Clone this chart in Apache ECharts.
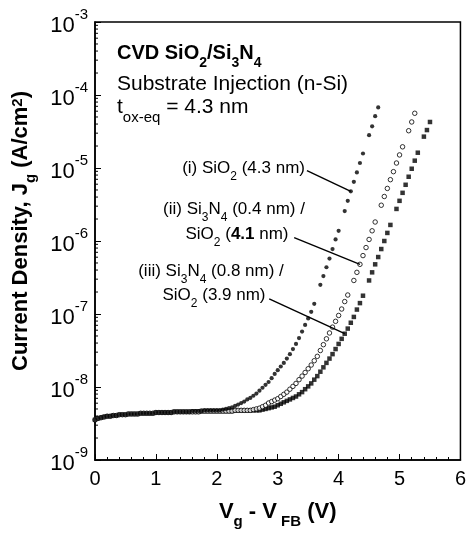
<!DOCTYPE html>
<html>
<head>
<meta charset="utf-8">
<script src="https://cdn.jsdelivr.net/npm/echarts@6/dist/echarts.min.js"></script>
<style>
  html, body { margin: 0; padding: 0; background: #fff; }
  #chart { width: 469px; height: 534px; }
</style>
</head>
<body>
<div id="chart"></div>
<script>
// Gate bias sweep, Vg - VFB (V)
const voltage = [
  0, 0.05, 0.1, 0.15, 0.2, 0.25, 0.3, 0.35, 0.4, 0.45,
  0.5, 0.55, 0.6, 0.65, 0.7, 0.75, 0.8, 0.85, 0.9, 0.95,
  1, 1.05, 1.1, 1.15, 1.2, 1.25, 1.3, 1.35, 1.4, 1.45,
  1.5, 1.55, 1.6, 1.65, 1.7, 1.75, 1.8, 1.85, 1.9, 1.95,
  2, 2.05, 2.1, 2.15, 2.2, 2.25, 2.3, 2.35, 2.4, 2.45,
  2.5, 2.55, 2.6, 2.65, 2.7, 2.75, 2.8, 2.85, 2.9, 2.95,
  3, 3.05, 3.1, 3.15, 3.2, 3.25, 3.3, 3.35, 3.4, 3.45,
  3.5, 3.55, 3.6, 3.65, 3.7, 3.75, 3.8, 3.85, 3.9, 3.95,
  4, 4.05, 4.1, 4.15, 4.2, 4.25, 4.3, 4.35, 4.4, 4.45,
  4.5, 4.55, 4.6, 4.65, 4.7, 4.75, 4.8, 4.85, 4.9, 4.95,
  5, 5.05, 5.1, 5.15, 5.2, 5.25, 5.3, 5.35, 5.4, 5.45,
  5.5
];

// (i) SiO2 (4.3 nm): gate current density Jg (A/cm^2); null = no reading
const jSiO2 = [
  3.55e-9, 3.72e-9, 3.80e-9, 3.89e-9, 3.98e-9, 3.98e-9, 4.07e-9, 4.07e-9, 4.17e-9, 4.17e-9,
  4.17e-9, 4.27e-9, 4.27e-9, 4.27e-9, 4.27e-9, 4.37e-9, 4.37e-9, 4.37e-9, 4.37e-9, 4.37e-9,
  4.47e-9, 4.47e-9, 4.47e-9, 4.47e-9, 4.47e-9, 4.47e-9, 4.57e-9, 4.57e-9, 4.57e-9, 4.57e-9,
  4.57e-9, 4.57e-9, 4.68e-9, 4.68e-9, 4.68e-9, 4.68e-9, 4.79e-9, 4.79e-9, 4.79e-9, 4.79e-9,
  4.79e-9, 4.79e-9, 4.90e-9, 5.01e-9, 5.13e-9, 5.25e-9, 5.50e-9, 5.75e-9, 6.03e-9, 6.31e-9,
  6.76e-9, 7.08e-9, 7.59e-9, 8.13e-9, 8.91e-9, 9.77e-9, 1.07e-8, 1.17e-8, 1.32e-8, 1.51e-8,
  1.70e-8, 1.91e-8, 2.14e-8, 2.45e-8, 2.82e-8, 3.31e-8, 3.89e-8, 4.68e-8, 5.75e-8, 7.08e-8,
  8.71e-8, 1.07e-7, 1.38e-7, null, 2.51e-7, 3.31e-7, 4.37e-7, 5.75e-7, 7.76e-7, 1.05e-6,
  1.38e-6, null, 2.57e-6, 3.55e-6, 4.79e-6, 6.46e-6, 8.71e-6, 1.17e-5, 1.58e-5, null,
  2.82e-5, 3.72e-5, 5.13e-5, 6.76e-5
];

// (ii) Si3N4 (0.4 nm) / SiO2 (4.1 nm)
const jN04 = [
  3.55e-9, 3.72e-9, 3.80e-9, 3.89e-9, 3.98e-9, 3.98e-9, 4.07e-9, 4.07e-9, 4.17e-9, 4.17e-9,
  4.17e-9, 4.27e-9, 4.27e-9, 4.27e-9, 4.27e-9, 4.37e-9, 4.37e-9, 4.37e-9, 4.37e-9, 4.37e-9,
  4.47e-9, 4.47e-9, 4.47e-9, 4.47e-9, 4.47e-9, 4.47e-9, 4.57e-9, 4.57e-9, 4.57e-9, 4.57e-9,
  4.57e-9, 4.57e-9, 4.57e-9, 4.57e-9, 4.57e-9, 4.68e-9, 4.68e-9, 4.68e-9, 4.68e-9, 4.68e-9,
  4.68e-9, 4.68e-9, 4.68e-9, 4.68e-9, 4.68e-9, 4.68e-9, 4.79e-9, 4.79e-9, 4.79e-9, 4.79e-9,
  4.79e-9, 4.79e-9, 4.90e-9, 5.01e-9, 5.13e-9, 5.37e-9, 5.62e-9, 6.03e-9, 6.31e-9, 6.61e-9,
  6.92e-9, 7.41e-9, 7.94e-9, 8.51e-9, 9.33e-9, 1.02e-8, 1.12e-8, 1.26e-8, 1.41e-8, 1.58e-8,
  1.78e-8, 2.00e-8, 2.29e-8, 2.63e-8, 3.16e-8, 3.80e-8, 4.57e-8, 5.50e-8, 6.61e-8, 7.94e-8,
  9.55e-8, 1.17e-7, 1.48e-7, 1.82e-7, null, 2.88e-7, 3.72e-7, 4.79e-7, 6.31e-7, 8.13e-7,
  1.05e-6, 1.38e-6, 1.82e-6, null, 3.09e-6, 4.07e-6, 5.25e-6, 6.92e-6, 8.91e-6, 1.17e-5,
  1.51e-5, 1.95e-5, null, 3.24e-5, 4.27e-5, 5.62e-5
];

// (iii) Si3N4 (0.8 nm) / SiO2 (3.9 nm)
const jN08 = [
  3.55e-9, 3.72e-9, 3.80e-9, 3.89e-9, 3.98e-9, 3.98e-9, 4.07e-9, 4.07e-9, 4.17e-9, 4.17e-9,
  4.17e-9, 4.27e-9, 4.27e-9, 4.27e-9, 4.27e-9, 4.37e-9, 4.37e-9, 4.37e-9, 4.37e-9, 4.37e-9,
  4.47e-9, 4.47e-9, 4.47e-9, 4.47e-9, 4.47e-9, 4.47e-9, 4.57e-9, 4.57e-9, 4.57e-9, 4.57e-9,
  4.57e-9, 4.57e-9, 4.57e-9, 4.57e-9, 4.57e-9, 4.68e-9, 4.68e-9, 4.68e-9, 4.68e-9, 4.68e-9,
  4.68e-9, 4.68e-9, 4.68e-9, 4.68e-9, 4.68e-9, 4.68e-9, 4.79e-9, 4.79e-9, 4.79e-9, 4.79e-9,
  4.79e-9, 4.79e-9, 4.79e-9, 4.79e-9, 4.79e-9, 4.90e-9, 5.01e-9, 5.13e-9, 5.25e-9, 5.37e-9,
  5.62e-9, 5.89e-9, 6.17e-9, 6.46e-9, 6.76e-9, 7.08e-9, 7.41e-9, 7.94e-9, 8.51e-9, 9.33e-9,
  1.02e-8, 1.12e-8, 1.26e-8, 1.41e-8, 1.62e-8, 1.86e-8, 2.14e-8, 2.45e-8, 2.82e-8, 3.31e-8,
  3.89e-8, 4.57e-8, 5.37e-8, 6.31e-8, 7.59e-8, 9.12e-8, 1.15e-7, 1.41e-7, 1.78e-7, null,
  2.88e-7, 3.72e-7, 4.79e-7, 6.03e-7, 7.76e-7, 1.00e-6, 1.29e-6, 1.66e-6, null, 2.75e-6,
  3.55e-6, 4.57e-6, 5.89e-6, 7.59e-6, 9.77e-6, 1.26e-5, 1.62e-5, null, 2.69e-5, 3.31e-5,
  4.27e-5
];

// Axis ticks
const xTicks = [0, 1, 2, 3, 4, 5, 6];
const yDecades = [1e-9, 1e-8, 1e-7, 1e-6, 1e-5, 1e-4, 1e-3];

// Leader lines from each label to its curve: [start, end] in (V, A/cm^2)
const leaderSiO2 = [[3.48, 9.2e-6], [4.2, 4.79e-6]];
const leaderN04 = [[3.27, 1.11e-6], [4.35, 4.79e-7]];
const leaderN08 = [[2.86, 1.61e-7], [4.1, 5.37e-8]];

const FONT = '"Liberation Sans", Arial, Helvetica, sans-serif';

function toPoints(values) {
  const pts = [];
  values.forEach((v, i) => { if (v != null) pts.push([voltage[i], v]); });
  return pts;
}

function leader(seg) {
  return {
    silent: true,
    symbol: ['none', 'none'],
    animation: false,
    label: { show: false },
    lineStyle: { color: '#000', width: 1.4, type: 'solid' },
    data: [[{ coord: seg[0] }, { coord: seg[1] }]]
  };
}

// minor ticks on the log axis: 2..9 within each decade
const minorTickValues = [];
for (let d = 0; d < yDecades.length - 1; d++) {
  for (let k = 2; k <= 9; k++) minorTickValues.push([0, k * yDecades[d]]);
}

const chart = echarts.init(document.getElementById('chart'), null, { renderer: 'canvas' });

const mainTok = (size, weight) => ({
  fontSize: size, fontWeight: weight || 'normal', fontFamily: FONT, color: '#000',
  lineHeight: Math.round(size * 1.3), verticalAlign: 'top'
});
const subTok = (size, weight, drop) => ({
  fontSize: size, fontWeight: weight || 'normal', fontFamily: FONT, color: '#000',
  lineHeight: size, verticalAlign: 'top', padding: [drop, 0, 0, 0]
});

function label(text, x, y, align, rich) {
  return {
    type: 'text', x: x, y: y, silent: true,
    style: { text: text, align: align, verticalAlign: 'top', rich: rich, fill: '#000' }
  };
}

const smallRich = {
  m: mainTok(17), s: subTok(12, 'normal', 11), mb: mainTok(17, 'bold')
};

const option = {
  animation: false,
  backgroundColor: '#fff',
  grid: {
    left: 95, right: 7, top: 22, bottom: 69,
    show: true, borderColor: '#000', borderWidth: 1.5, backgroundColor: 'transparent'
  },
  xAxis: {
    type: 'value', min: 0, max: 6, interval: 1,
    axisLine: { show: true, lineStyle: { color: '#000', width: 1.5 } },
    axisTick: { show: true, inside: true, length: 6, lineStyle: { color: '#000', width: 1 } },
    minorTick: { show: true, splitNumber: 5, length: 3, lineStyle: { color: '#000', width: 1 } },
    splitLine: { show: false },
    axisLabel: {
      margin: 9, color: '#000', fontSize: 20, fontFamily: FONT,
      formatter: (v) => (xTicks.indexOf(v) >= 0 ? String(v) : '')
    },
    name: '{m|V}{s|g}{m| - V}{s| FB}{m| (V)}',
    nameLocation: 'middle', nameGap: 41,
    nameTextStyle: {
      rich: { m: mainTok(22, 'bold'), s: subTok(15, 'bold', 13) }
    }
  },
  yAxis: {
    type: 'log', logBase: 10, min: 1e-9, max: 1e-3,
    axisLine: { show: true, lineStyle: { color: '#000', width: 1.5 } },
    axisTick: { show: true, inside: true, length: 6, lineStyle: { color: '#000', width: 1 } },
    splitLine: { show: false },
    axisLabel: {
      margin: 7,
      formatter: (v) => '{b|10}{e|' + Math.round(Math.log10(v)) + '}',
      rich: {
        b: { fontSize: 22, fontFamily: FONT, color: '#000', lineHeight: 30, verticalAlign: 'bottom' },
        e: { fontSize: 15, fontFamily: FONT, color: '#000', lineHeight: 17, verticalAlign: 'top' }
      }
    },
    name: '{m|Current Density, J}{s|g}{m| (A/cm}{p|2}{m|)}',
    nameLocation: 'middle', nameGap: 56,
    nameTextStyle: {
      padding: [0, 0, 0, 20],
      rich: {
        m: mainTok(22, 'bold'),
        s: subTok(15, 'bold', 13),
        p: { fontSize: 15, fontWeight: 'bold', fontFamily: FONT, color: '#000', lineHeight: 15, verticalAlign: 'top' }
      }
    }
  },
  series: [
    {
      name: 'minor ticks', type: 'custom', coordinateSystem: 'cartesian2d', silent: true, z: 5,
      data: minorTickValues,
      renderItem: (params, api) => {
        const p = api.coord([0, api.value(1)]);
        return { type: 'line', shape: { x1: p[0], y1: p[1], x2: p[0] + 3, y2: p[1] },
                 style: { stroke: '#000', lineWidth: 1 } };
      }
    },
    {
      name: '(iii) Si3N4 (0.8 nm) / SiO2 (3.9 nm)', type: 'scatter',
      data: toPoints(jN08), symbol: 'rect', symbolSize: 4.5,
      itemStyle: { color: '#000' }, z: 2,
      markLine: leader(leaderN08)
    },
    {
      name: '(ii) Si3N4 (0.4 nm) / SiO2 (4.1 nm)', type: 'scatter',
      data: toPoints(jN04), symbol: 'circle', symbolSize: 4.5,
      itemStyle: { color: '#fff', borderColor: '#000', borderWidth: 1 }, z: 3,
      markLine: leader(leaderN04)
    },
    {
      name: '(i) SiO2 (4.3 nm)', type: 'scatter',
      data: toPoints(jSiO2), symbol: 'circle', symbolSize: 4.2,
      itemStyle: { color: '#000' }, z: 4,
      markLine: leader(leaderSiO2)
    }
  ],
  graphic: [
    label('{m|CVD SiO}{s|2}{m|/Si}{s|3}{m|N}{s|4}', 117, 43, 'left',
      { m: mainTok(20, 'bold'), s: subTok(14, 'bold', 13) }),
    label('{m|Substrate Injection (n-Si)}', 117, 74, 'left', { m: mainTok(21) }),
    label('{m|t}{s|ox-eq}{m| = 4.3 nm}', 117, 97, 'left',
      { m: mainTok(21), s: subTok(15, 'normal', 13) }),
    label('{m|(i) SiO}{s|2}{m| (4.3 nm)}', 305, 160, 'right', smallRich),
    label('{m|(ii) Si}{s|3}{m|N}{s|4}{m| (0.4 nm) /}', 234, 201, 'center', smallRich),
    label('{m|SiO}{s|2}{m| (}{mb|4.1}{m| nm)}', 237, 226, 'center', smallRich),
    label('{m|(iii) Si}{s|3}{m|N}{s|4}{m| (0.8 nm) /}', 211, 263, 'center', smallRich),
    label('{m|SiO}{s|2}{m| (3.9 nm)}', 214, 287, 'center', smallRich)
  ]
};

chart.setOption(option);
</script>
</body>
</html>
